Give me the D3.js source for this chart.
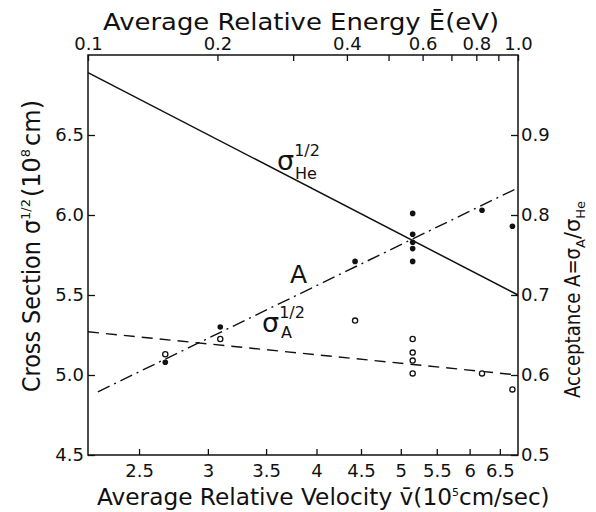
<!DOCTYPE html>
<html>
<head>
<meta charset="utf-8">
<script src="https://cdn.jsdelivr.net/npm/d3@7"></script>
<style>
  body { margin: 0; background: #fff; }
  svg text { font-family: "DejaVu Sans", sans-serif; fill: #111; }
</style>
</head>
<body>
<div id="chart"></div>
<script>
// tick labels
const velTicks = [2.5, 3, 3.5, 4, 4.5, 5, 5.5, 6, 6.5];
const energyTicks = [0.1, 0.2, 0.3, 0.4, 0.5, 0.6, 0.7, 0.8, 0.9, 1.0];
const energyLabels = ['0.1', '0.2', '', '0.4', '', '0.6', '', '0.8', '', '1.0'];
const leftTicks = [4.5, 5.0, 5.5, 6.0, 6.5];
const rightTicks = [0.5, 0.6, 0.7, 0.8, 0.9];

// filled points: sigma_He^1/2
const heVel = [2.68, 3.10, 4.43, 5.16, 5.16, 5.16, 5.16, 5.16, 6.20, 6.72];
const heVal = [5.08, 5.30, 5.71, 6.01, 5.88, 5.83, 5.79, 5.71, 6.03, 5.93];

// open points: sigma_A^1/2
const aVel = [2.68, 3.10, 4.43, 5.16, 5.16, 5.16, 5.16, 6.20, 6.72];
const aVal = [5.13, 5.225, 5.34, 5.225, 5.14, 5.09, 5.01, 5.01, 4.91];

// fitted lines (end points)
const heLineVel = [2.184, 6.82];
const heLineVal = [6.89, 5.50];
const aLineVel = [2.184, 6.82];
const aLineVal = [5.27, 5.00];
const accLineVel = [2.242, 6.82];
const accLineVal = [0.579, 0.834];

const width = 596, height = 512;
const m = { left: 88, right: 78, top: 55, bottom: 57 };
const x0 = m.left, x1 = width - m.right, y0 = height - m.bottom, y1 = m.top;

const svg = d3.select('#chart').append('svg').attr('width', width).attr('height', height);

const x = d3.scaleLog().domain([2.184, 6.82]).range([x0, x1]);
const xE = d3.scaleLog().domain([0.1, 1.0]).range([x0, x1]);
const y = d3.scaleLinear().domain([4.5, 7.0]).range([y0, y1]);
const yR = d3.scaleLinear().domain([0.5, 1.0]).range([y0, y1]);

// frame
svg.append('rect')
  .attr('x', x0).attr('y', y1).attr('width', x1 - x0).attr('height', y0 - y1)
  .attr('fill', 'none').attr('stroke', '#111').attr('stroke-width', 1.5);

const tickFont = 18;

// bottom axis
const gBottom = svg.append('g').attr('transform', `translate(0,${y0})`)
  .call(d3.axisBottom(x).tickValues(velTicks).tickSizeInner(-6).tickSizeOuter(0).tickFormat(d3.format('')));
gBottom.selectAll('text').attr('dy', '1.05em').style('font-size', `${tickFont}px`);

// top axis
const gTop = svg.append('g').attr('transform', `translate(0,${y1})`)
  .call(d3.axisTop(xE).tickValues(energyTicks).tickSizeInner(-6).tickSizeOuter(0)
    .tickFormat((d, i) => energyLabels[i]));
gTop.selectAll('text').attr('dy', '-0.1em').style('font-size', `${tickFont}px`);

// left axis
const gLeft = svg.append('g').attr('transform', `translate(${x0},0)`)
  .call(d3.axisLeft(y).tickValues(leftTicks).tickSizeInner(-7).tickSizeOuter(0).tickFormat(d3.format('.1f')));
gLeft.selectAll('text').attr('x', -4).style('font-size', `${tickFont}px`);

// right axis
const gRight = svg.append('g').attr('transform', `translate(${x1},0)`)
  .call(d3.axisRight(yR).tickValues(rightTicks).tickSizeInner(-7).tickSizeOuter(0).tickFormat(d3.format('.1f')));
gRight.selectAll('text').attr('x', 3).style('font-size', `${tickFont}px`);

svg.selectAll('.domain').remove();
svg.selectAll('.tick line').attr('stroke', '#111').attr('stroke-width', 1.3);

// lines
const line = d3.line().x((d) => x(d[0])).y((d) => d[1]);
svg.append('path')
  .attr('d', line(heLineVel.map((v, i) => [v, y(heLineVal[i])])))
  .attr('fill', 'none').attr('stroke', '#111').attr('stroke-width', 1.5);
svg.append('path')
  .attr('d', line(aLineVel.map((v, i) => [v, y(aLineVal[i])])))
  .attr('fill', 'none').attr('stroke', '#111').attr('stroke-width', 1.4)
  .attr('stroke-dasharray', '11,7');
svg.append('path')
  .attr('d', line(accLineVel.map((v, i) => [v, yR(accLineVal[i])])))
  .attr('fill', 'none').attr('stroke', '#111').attr('stroke-width', 1.4)
  .attr('stroke-dasharray', '13,5,2,5');

// points
svg.selectAll('circle.he')
  .data(heVel.map((v, i) => [v, heVal[i]]))
  .enter().append('circle').attr('class', 'he')
  .attr('cx', (d) => x(d[0])).attr('cy', (d) => y(d[1])).attr('r', 2.8)
  .attr('fill', '#111');
svg.selectAll('circle.a')
  .data(aVel.map((v, i) => [v, aVal[i]]))
  .enter().append('circle').attr('class', 'a')
  .attr('cx', (d) => x(d[0])).attr('cy', (d) => y(d[1])).attr('r', 2.6)
  .attr('fill', '#fff').attr('stroke', '#111').attr('stroke-width', 1.3);

// in-plot labels
const lab1 = svg.append('text').attr('x', 277).attr('y', 170).style('font-size', '27px');
lab1.append('tspan').text('σ');
lab1.append('tspan').attr('dy', -14).style('font-size', '16px').text('1/2');
lab1.append('tspan').attr('dx', -25).attr('dy', 23).style('font-size', '16px').text('He');

svg.append('text').attr('x', 290).attr('y', 283).style('font-size', '25px').text('A');

const lab2 = svg.append('text').attr('x', 262).attr('y', 332).style('font-size', '27px');
lab2.append('tspan').text('σ');
lab2.append('tspan').attr('dy', -14).style('font-size', '16px').text('1/2');
lab2.append('tspan').attr('dx', -24).attr('dy', 20).style('font-size', '16px').text('A');

// axis titles
const titleFont = 23;
svg.append('text').attr('x', 103).attr('y', 30)
  .attr('textLength', 396).attr('lengthAdjust', 'spacingAndGlyphs')
  .style('font-size', `${titleFont}px`)
  .text('Average Relative Energy E\u0304(eV)');

const tBot = svg.append('text').attr('x', 97).attr('y', 505)
  .style('font-size', `${titleFont}px`);
tBot.append('tspan').attr('textLength', 355).attr('lengthAdjust', 'spacingAndGlyphs')
  .text('Average Relative Velocity v\u0304(10');
tBot.append('tspan').attr('dy', -9).style('font-size', '11px').text('5');
tBot.append('tspan').attr('dy', 9).text('cm/sec)');

const tLeft = svg.append('text')
  .attr('transform', 'translate(40,392) rotate(-90)')
  .style('font-size', '24px');
tLeft.append('tspan').attr('textLength', 172).attr('lengthAdjust', 'spacingAndGlyphs').text('Cross Section σ');
tLeft.append('tspan').attr('dy', -10).style('font-size', '13px').text('1/2');
tLeft.append('tspan').attr('dx', 2).attr('dy', 10).text('(10');
tLeft.append('tspan').attr('dy', -10).style('font-size', '13px').text('8');
tLeft.append('tspan').attr('dx', 3).attr('dy', 10).text('cm)');

const tRight = svg.append('text')
  .attr('transform', 'translate(580,398) rotate(-90)')
  .style('font-size', '21px');
tRight.append('tspan').attr('textLength', 150).attr('lengthAdjust', 'spacingAndGlyphs').text('Acceptance A=σ');
tRight.append('tspan').attr('dy', 5).style('font-size', '13px').text('A');
tRight.append('tspan').attr('dy', -5).text('/σ');
tRight.append('tspan').attr('dy', 5).style('font-size', '13px').text('He');
</script>
</body>
</html>
